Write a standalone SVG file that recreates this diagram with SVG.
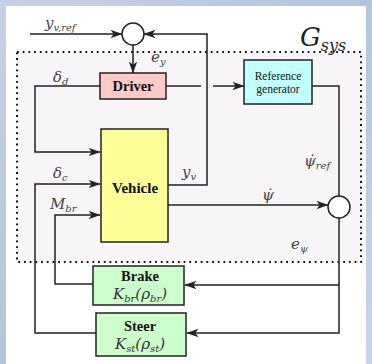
<svg xmlns="http://www.w3.org/2000/svg" width="372" height="364" viewBox="0 0 372 364">
<defs>
<linearGradient id="bg" x1="0" y1="0" x2="1" y2="1">
<stop offset="0" stop-color="#c4d2e6"/><stop offset="0.5" stop-color="#b3c4de"/><stop offset="1" stop-color="#c9d5e8"/>
</linearGradient>
<marker id="arr" viewBox="0 0 12 10" refX="11.5" refY="5" markerWidth="12" markerHeight="10" orient="auto" markerUnits="userSpaceOnUse">
<path d="M0,0.8 L12,5 L0,9.2 L3.2,5 z" fill="#222"/>
</marker>
</defs>
<style>
.ln{fill:none;stroke:#222;stroke-width:1.5}
.bx{stroke:#222;stroke-width:1.5}
.t{font-family:"Liberation Serif",serif;fill:#111}
.b{font-weight:bold;font-size:14.5px;text-anchor:middle}
.m{font-family:"DejaVu Serif","Liberation Serif",serif;font-style:italic;fill:#444;font-size:15px}
.s{font-size:10px}
</style>
<rect width="372" height="364" fill="url(#bg)"/>
<rect x="6" y="6" width="360" height="358" fill="#ffffff"/>
<rect x="17" y="52" width="344" height="210" fill="#f7f5f7" stroke="#111" stroke-width="2" stroke-dasharray="1.8 3.9"/>
<text class="m" x="300" y="46" style="font-size:26px;fill:#222">G<tspan style="font-size:16px" dy="5">sys</tspan></text>

<g id="connectors">
<path class="ln" d="M30,34 H122" marker-end="url(#arr)"/>
<path class="ln" d="M168,185 H207 V34 H144" marker-end="url(#arr)"/>
<path class="ln" d="M133,45 V73" marker-end="url(#arr)"/>
<path class="ln" d="M100,86 H35 V152 H100" marker-end="url(#arr)"/>
<path class="ln" d="M166,86 H201"/>
<path class="ln" d="M213,86 H244" marker-end="url(#arr)"/>
<path class="ln" d="M312,86 H339 V196"/>
<path class="ln" d="M168,205 H328" marker-end="url(#arr)"/>
<path class="ln" d="M339,218 V333 H187" marker-end="url(#arr)"/>
<path class="ln" d="M339,285 H185" marker-end="url(#arr)"/>
<path class="ln" d="M93,284 H55 V215 H100" marker-end="url(#arr)"/>
<path class="ln" d="M96,333 H35 V184 H100" marker-end="url(#arr)"/>
</g>

<g id="sum1"><circle cx="133" cy="34" r="11" fill="#fff" class="bx"/></g>
<g id="sum2"><circle cx="339" cy="207" r="11" fill="#fff" class="bx"/></g>

<g id="driver">
<rect x="100" y="73" width="66" height="26" fill="#ffc9c9" class="bx"/>
<text class="t b" x="133" y="91">Driver</text>
</g>
<g id="refgen">
<rect x="244" y="60" width="68" height="44" fill="#c4ffff" class="bx"/>
<text class="t" x="278" y="80" font-size="11.5" text-anchor="middle">Reference</text>
<text class="t" x="278" y="93" font-size="11.5" text-anchor="middle">generator</text>
</g>
<g id="vehicle">
<rect x="101" y="129" width="67" height="113" fill="#ffff99" class="bx"/>
<text class="t b" x="135" y="193" style="font-size:15px">Vehicle</text>
</g>
<g id="brake">
<rect x="93" y="266" width="91" height="39" fill="#ccffcc" class="bx"/>
<text class="t b" x="140" y="281">Brake</text>
<text class="m" x="140" y="299" text-anchor="middle" style="fill:#333">K<tspan class="s" dy="3">br</tspan><tspan dy="-3">(ρ</tspan><tspan class="s" dy="3">br</tspan><tspan dy="-3">)</tspan></text>
</g>
<g id="steer">
<rect x="96" y="313" width="90" height="43" fill="#ccffcc" class="bx"/>
<text class="t b" x="140" y="331">Steer</text>
<text class="m" x="140" y="349" text-anchor="middle" style="fill:#333">K<tspan class="s" dy="3">st</tspan><tspan dy="-3">(ρ</tspan><tspan class="s" dy="3">st</tspan><tspan dy="-3">)</tspan></text>
</g>

<g id="labels">
<text class="m" x="45" y="28">y<tspan class="s" dy="3">v,ref</tspan></text>
<text class="m" x="151" y="62">e<tspan class="s" dy="3">y</tspan></text>
<text class="m" x="53" y="82">δ<tspan class="s" dy="3">d</tspan></text>
<text class="m" x="53" y="178">δ<tspan class="s" dy="3">c</tspan></text>
<text class="m" x="50" y="209">M<tspan class="s" dy="3">br</tspan></text>
<text class="m" x="182" y="177">y<tspan class="s" dy="3">v</tspan></text>
<text class="m" x="262" y="200">ψ̇</text>
<text class="m" x="304" y="166">ψ̇<tspan class="s" dy="3">ref</tspan></text>
<text class="m" x="291" y="249">e<tspan class="s" dy="3">ψ</tspan></text>
</g>
</svg>
